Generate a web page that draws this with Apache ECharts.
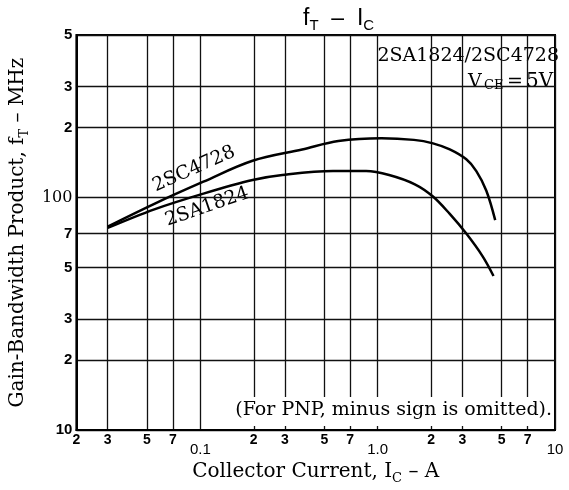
<!DOCTYPE html>
<html><head><meta charset="utf-8">
<script src="https://cdn.jsdelivr.net/npm/echarts@6/dist/echarts.min.js"></script>
<style>html,body{margin:0;padding:0;background:#fff}#c{width:569px;height:490px}</style>
</head><body><div id="c"></div>
<script>
// Collector current (A) and gain-bandwidth product (MHz)
const ic2SC4728 = [0.030, 0.055, 0.104, 0.197, 0.375, 0.6, 1.05, 1.6, 2.05, 2.55, 3.16, 3.6, 4.1, 4.6];
const ft2SC4728 = [75, 94, 117, 144, 161, 175, 180, 177, 171, 161, 146, 130, 107, 80];
const ic2SA1824 = [0.030, 0.055, 0.104, 0.197, 0.29, 0.56, 0.86, 1.16, 1.62, 2.05, 2.55, 3.16, 3.9, 4.5];
const ft2SA1824 = [74, 89, 104, 119, 125, 130, 130, 125, 114, 101, 85, 70, 56, 46];
const xTicks = [0.02, 0.03, 0.05, 0.07, 0.1, 0.2, 0.3, 0.5, 0.7, 1, 2, 3, 5, 7, 10];
const xTickLabels = ["2", "3", "5", "7", "0.1", "2", "3", "5", "7", "1.0", "2", "3", "5", "7", "10"];
const xDecades = ["0.1", "1.0", "10"];
const yTicks = [10, 20, 30, 50, 70, 100, 200, 300, 500];
const yTickLabels = ["10", "2", "3", "5", "7", "100", "2", "3", "5"];

const SERIF = "'DejaVu Serif', 'Liberation Serif', serif";
const SANS = "'Liberation Sans', Arial, sans-serif";

function pick(ticks, labels, v) {
  for (let i = 0; i < ticks.length; i++) {
    if (Math.abs(Math.log10(v) - Math.log10(ticks[i])) < 0.01) return labels[i];
  }
  return '';
}
function zip(a, b) { return a.map((x, i) => [x, b[i]]); }
function txt(x, y, s, size, extra) {
  return Object.assign({ type: 'text', x: x, y: y, style: {
    text: s, font: size + "px 'DejaVu Serif'", fill: '#000', verticalAlign: 'middle' } }, extra || {});
}

const chart = echarts.init(document.getElementById('c'));
const option = {
  animation: false,
  backgroundColor: '#fff',
  title: {
    text: '{f|f}{s|T}{f|  –  I}{s|C}',
    left: 298, top: 0,
    textStyle: {
      fontWeight: 'normal',
      rich: {
        f: { fontFamily: SANS, fontWeight: 'normal', fontSize: 23, color: '#000', lineHeight: 28, verticalAlign: 'middle' },
        s: { fontFamily: SANS, fontWeight: 'normal', fontSize: 15, color: '#000', verticalAlign: 'bottom' }
      }
    }
  },
  grid: { left: 72, right: 14, top: 35, bottom: 58, show: true, borderColor: '#000', borderWidth: 2 },
  xAxis: {
    type: 'log', logBase: 10, min: 0.02, max: 10,
    axisLine: { show: true, lineStyle: { color: '#000', width: 2 } },
    axisTick: { show: false, customValues: xTicks },
    splitLine: { show: true, lineStyle: { color: '#111', width: 1.3 } },
    minorTick: { show: false }, minorSplitLine: { show: false },
    axisLabel: {
      customValues: xTicks, margin: 3, showMinLabel: true, showMaxLabel: true,
      formatter: v => { const t = pick(xTicks, xTickLabels, v); return xDecades.includes(t) ? '{d|' + t + '}' : '{n|' + t + '}'; },
      rich: {
        n: { fontFamily: SANS, fontWeight: 'bold', fontSize: 14, color: '#000' },
        d: { fontFamily: SANS, fontSize: 15, color: '#000', padding: [9, 0, 0, 0] }
      }
    },
    name: '{n|Collector Current, I}{s|C}{n| – A}', nameLocation: 'middle', nameGap: 20,
    nameTextStyle: {
      rich: {
        n: { fontFamily: SERIF, fontSize: 20, color: '#000', lineHeight: 26, verticalAlign: 'middle' },
        s: { fontFamily: SERIF, fontSize: 13, color: '#000', verticalAlign: 'bottom' }
      }
    }
  },
  yAxis: {
    type: 'log', logBase: 10, min: 10, max: 500,
    axisLine: { show: true, lineStyle: { color: '#000', width: 2 } },
    axisTick: { show: false, customValues: yTicks },
    splitLine: { show: true, lineStyle: { color: '#111', width: 1.3 } },
    minorTick: { show: false }, minorSplitLine: { show: false },
    axisLabel: {
      customValues: yTicks, margin: 4, showMinLabel: true, showMaxLabel: true,
      formatter: v => { const t = pick(yTicks, yTickLabels, v); return t === '100' ? '{h|100}' : '{n|' + t + '}'; },
      rich: {
        n: { fontFamily: SANS, fontWeight: 'bold', fontSize: 15, color: '#000' },
        h: { fontFamily: SERIF, fontSize: 16, color: '#000' }
      }
    },
    name: '{n|Gain-Bandwidth Product, f}{s|T}{n| – MHz}', nameLocation: 'middle', nameGap: 36, nameRotate: 90,
    nameTextStyle: {
      rich: {
        n: { fontFamily: SERIF, fontSize: 20, color: '#000', lineHeight: 26, verticalAlign: 'middle' },
        s: { fontFamily: SERIF, fontSize: 13, color: '#000', verticalAlign: 'bottom' }
      }
    }
  },
  series: [
    { name: '2SC4728', type: 'line', data: zip(ic2SC4728, ft2SC4728), smooth: 0.35, showSymbol: false,
      lineStyle: { color: '#000', width: 2.5 } },
    { name: '2SA1824', type: 'line', data: zip(ic2SA1824, ft2SA1824), smooth: 0.35, showSymbol: false,
      lineStyle: { color: '#000', width: 2.5 } }
  ],
  graphic: [
    { type: 'text', right: 10, top: 47, style: { text: '2SA1824/2SC4728', font: "19px 'DejaVu Serif'", fill: '#000' } },
    txt(468, 82, 'V', 19),
    txt(484, 86, 'CE', 13),
    txt(507, 82, '=', 19),
    txt(526, 82, '5V', 20),
    { type: 'text', right: 15, top: 397, z: 10, style: {
        text: '(For PNP, minus sign is omitted).', font: "19px 'DejaVu Serif'", fill: '#000',
        backgroundColor: '#fff', padding: [4, 2, 6, 6] } },
    { type: 'text', x: 194, y: 169, rotation: 24 * Math.PI / 180, style: {
        text: '2SC4728', font: "19px 'DejaVu Serif'", fill: '#000', align: 'center', verticalAlign: 'middle' } },
    { type: 'text', x: 207, y: 207, rotation: 19 * Math.PI / 180, style: {
        text: '2SA1824', font: "19px 'DejaVu Serif'", fill: '#000', align: 'center', verticalAlign: 'middle' } }
  ]
};
chart.setOption(option);
</script>
</body></html>
